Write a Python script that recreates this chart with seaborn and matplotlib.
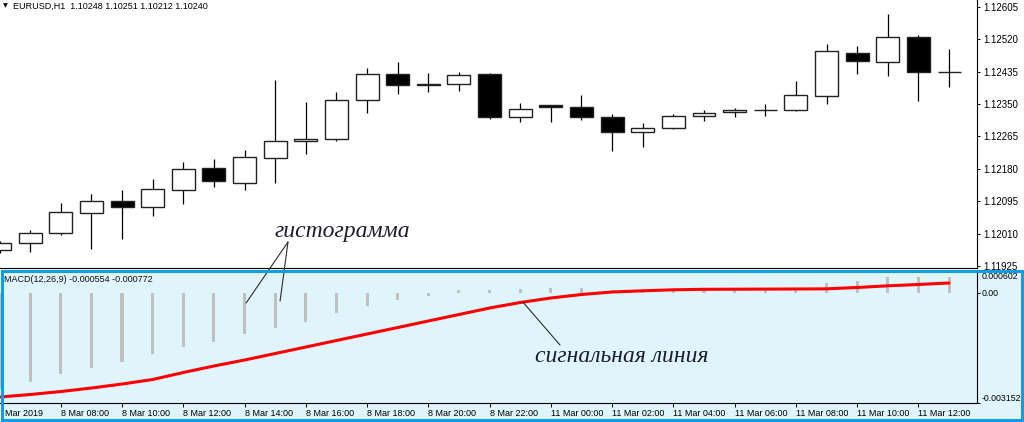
import numpy as np
import matplotlib
matplotlib.use("Agg")
import matplotlib.pyplot as plt
import seaborn as sns
from matplotlib.patches import Rectangle

sns.set_style("white")
plt.rcParams["font.family"] = ["Liberation Sans", "DejaVu Sans"]

# ---------------- data ----------------
title_text = "EURUSD,H1  1.10248 1.10251 1.10212 1.10240"
macd_text = "MACD(12,26,9) -0.000554 -0.000772"

opens = [1.11967, 1.11986, 1.12011, 1.12065, 1.12094, 1.12080, 1.12124, 1.12181,
         1.12143, 1.12207, 1.12253, 1.12257, 1.12360, 1.12428, 1.12402, 1.12402,
         1.12428, 1.12315, 1.12347, 1.12343, 1.12316, 1.12277, 1.12287, 1.12317,
         1.12329, 1.12334, 1.12334, 1.12370, 1.12484, 1.12461, 1.12525, 1.12434]
highs = [1.11990, 1.12019, 1.12089, 1.12113, 1.12124, 1.12153, 1.12197, 1.12205,
         1.12229, 1.12413, 1.12356, 1.12380, 1.12443, 1.12461, 1.12432, 1.12435,
         1.12432, 1.12352, 1.12348, 1.12374, 1.12324, 1.12299, 1.12324, 1.12334,
         1.12339, 1.12349, 1.12410, 1.12506, 1.12503, 1.12586, 1.12531, 1.12494]
lows = [1.11960, 1.11962, 1.12006, 1.11969, 1.11996, 1.12057, 1.12087, 1.12133,
        1.12124, 1.12143, 1.12218, 1.12253, 1.12325, 1.12375, 1.12382, 1.12385,
        1.12311, 1.12302, 1.12302, 1.12308, 1.12227, 1.12236, 1.12283, 1.12305,
        1.12316, 1.12319, 1.12331, 1.12350, 1.12428, 1.12423, 1.12358, 1.12395]
closes = [1.11986, 1.12012, 1.12067, 1.12094, 1.12080, 1.12126, 1.12178, 1.12147,
          1.12211, 1.12253, 1.12259, 1.12360, 1.12428, 1.12400, 1.12399, 1.12426,
          1.12315, 1.12337, 1.12341, 1.12315, 1.12277, 1.12288, 1.12318, 1.12325,
          1.12334, 1.12335, 1.12373, 1.12490, 1.12463, 1.12525, 1.12434, 1.12433]

macd_hist = [-0.00275, -0.002559, -0.00233, -0.002158, -0.001969, -0.001757, -0.001539,
             -0.001396, -0.001184, -0.000994, -0.000823, -0.000583, -0.000364, -0.000201,
             -0.000077, 0.000086, 0.000086, 0.000115, 0.000143, 0.000143, 0.0001, 0.0001,
             0.0001, 0.00011, 0.00012, 0.00012, 0.00015, 0.000278, 0.000344, 0.00045,
             0.00045, 0.00045]
signal = [-0.002981, -0.002909, -0.002823, -0.002723, -0.002608, -0.002479, -0.002278,
          -0.002092, -0.00192, -0.001734, -0.001548, -0.001361, -0.001175, -0.000989,
          -0.000802, -0.000616, -0.00043, -0.000272, -0.000143, -0.000043, 0.000029,
          0.000063, 0.000092, 0.000106, 0.000109, 0.000112, 0.000115, 0.00012,
          0.000158, 0.000206, 0.000244, 0.000287]

price_ticks = [1.11925, 1.12010, 1.12095, 1.12180, 1.12265, 1.12350, 1.12435, 1.12520, 1.12605]
macd_ticks = [-0.003152, 0.0, 0.000602]
macd_tick_labels = ["-0.003152", "0.00", "0.000602"]
time_tick_pos = list(range(2, 31, 2))
time_tick_labels = ["8 Mar 08:00", "8 Mar 10:00", "8 Mar 12:00", "8 Mar 14:00",
                    "8 Mar 16:00", "8 Mar 18:00", "8 Mar 20:00", "8 Mar 22:00",
                    "11 Mar 00:00", "11 Mar 02:00", "11 Mar 04:00", "11 Mar 06:00",
                    "11 Mar 08:00", "11 Mar 10:00", "11 Mar 12:00"]
first_label = "Mar 2019"
label_hist = "гистограмма"
label_signal = "сигнальная линия"

# ---------------- layout ----------------
W, H = 1024, 422
fig = plt.figure(figsize=(W / 100, H / 100), dpi=100)
fig.patch.set_facecolor("white")


def fx(px):
    return px / W


def fy(py):
    return 1 - py / H


LIGHT = "#E0F4FB"
BLUE = "#149BE6"

# lower window background + active-window frame
fig.patches.append(Rectangle((fx(1.5), fy(419.5)), fx(1020), 148.5 / H, transform=fig.transFigure,
                             facecolor=LIGHT, edgecolor="none", zorder=-5))
fig.patches.append(Rectangle((fx(1.5), fy(419.5)), fx(1020), 148.5 / H, transform=fig.transFigure,
                             facecolor="none", edgecolor=BLUE, linewidth=2.2, zorder=10))

ax1 = fig.add_axes([0, fy(268), fx(977), 268 / H])
ax2 = fig.add_axes([0, fy(403), fx(977), 131 / H])

xlim = (0.0163, 31.913)
idx = np.arange(len(opens))

# ---------------- candles ----------------
ax1.set_facecolor("white")
o = np.array(opens); c = np.array(closes)
ax1.vlines(idx, lows, highs, color="black", linewidth=0.9, zorder=1)
bottoms = np.minimum(o, c)
heights = np.maximum(np.abs(c - o), 0.000004)
fills = ["black" if cc < oo else "white" for oo, cc in zip(o, c)]
ax1.bar(idx, heights, bottom=bottoms, width=0.75, color=fills, edgecolor="#222222",
        linewidth=1.0, zorder=2)
ax1.set_xlim(*xlim)
ax1.set_ylim(1.119195, 1.126226)
ax1.set_xticks([])
ax1.yaxis.tick_right()
ax1.set_yticks(price_ticks)
ax1.set_yticklabels([f"{v:.5f}" for v in price_ticks])
ax1.tick_params(axis="y", direction="out", length=2.5, width=0.7, pad=2, labelsize=7,
                colors="black", right=True, left=False)
for s in ["left", "top"]:
    ax1.spines[s].set_visible(False)
for s in ["right", "bottom"]:
    ax1.spines[s].set_color("black")
    ax1.spines[s].set_linewidth(0.8)

# ---------------- MACD ----------------
ax2.set_facecolor(LIGHT)
ax2.bar(idx, macd_hist, width=0.1, color="#C0C0C0", edgecolor="none", linewidth=0, zorder=1)
sns.lineplot(x=idx, y=signal, ax=ax2, color="#FF0000", linewidth=2.2, zorder=3)
ax2.set_xlim(*xlim)
ax2.set_ylim(-0.003152, 0.000602)
ax2.set_xlabel("")
ax2.set_ylabel("")
ax2.yaxis.tick_right()
ax2.set_yticks(macd_ticks)
ax2.set_yticklabels(macd_tick_labels)
for lab, va in zip(ax2.get_yticklabels(), ["bottom", "center", "top"]):
    lab.set_va(va)
ax2.tick_params(axis="y", direction="out", length=2.0, width=0.7, pad=1.2, labelsize=6.3,
                colors="black", right=True, left=False)
ax2.set_xticks(time_tick_pos)
ax2.set_xticklabels(time_tick_labels)
for lab in ax2.get_xticklabels():
    lab.set_ha("left")
ax2.tick_params(axis="x", direction="out", length=3, width=0.7, pad=1.5, labelsize=6.5,
                colors="black", bottom=True)
for s in ["left", "top"]:
    ax2.spines[s].set_visible(False)
for s in ["right", "bottom"]:
    ax2.spines[s].set_color("black")
    ax2.spines[s].set_linewidth(0.8)

# ---------------- texts ----------------
fig.text(fx(3), fy(6), "▼", fontsize=4.5, va="center", ha="left", color="black",
         family=["DejaVu Sans"])
fig.text(fx(13), fy(6), title_text, fontsize=6.5, va="center", ha="left", color="black")
fig.text(fx(4), fy(279), macd_text, fontsize=6.5, va="center", ha="left", color="#111111")
fig.text(fx(5), fy(413), first_label, fontsize=6.5, va="center", ha="left", color="black")

fig.text(fx(275), fy(237.5), label_hist, fontsize=17, style="italic", va="baseline",
         ha="left", color="#1c1c30", family=["Liberation Serif", "DejaVu Serif"], zorder=12)
fig.text(fx(535), fy(362), label_signal, fontsize=17, style="italic", va="baseline",
         ha="left", color="#1c1c30", family=["Liberation Serif", "DejaVu Serif"], zorder=12)

arrow = dict(arrowstyle="-", color="#2b2b2b", linewidth=0.8, shrinkA=0, shrinkB=0)
ax2.annotate("", xy=(8.05, -0.000287), xycoords="data", xytext=(288, H - 242),
             textcoords="figure pixels", arrowprops=arrow, annotation_clip=False)
ax2.annotate("", xy=(9.16, -0.000229), xycoords="data", xytext=(288, H - 242),
             textcoords="figure pixels", arrowprops=arrow, annotation_clip=False)
ax2.annotate("", xy=(17.1, signal[17]), xycoords="data", xytext=(560, H - 345),
             textcoords="figure pixels", arrowprops=arrow, annotation_clip=False)

fig.savefig("out.png", dpi=100, facecolor="white")
